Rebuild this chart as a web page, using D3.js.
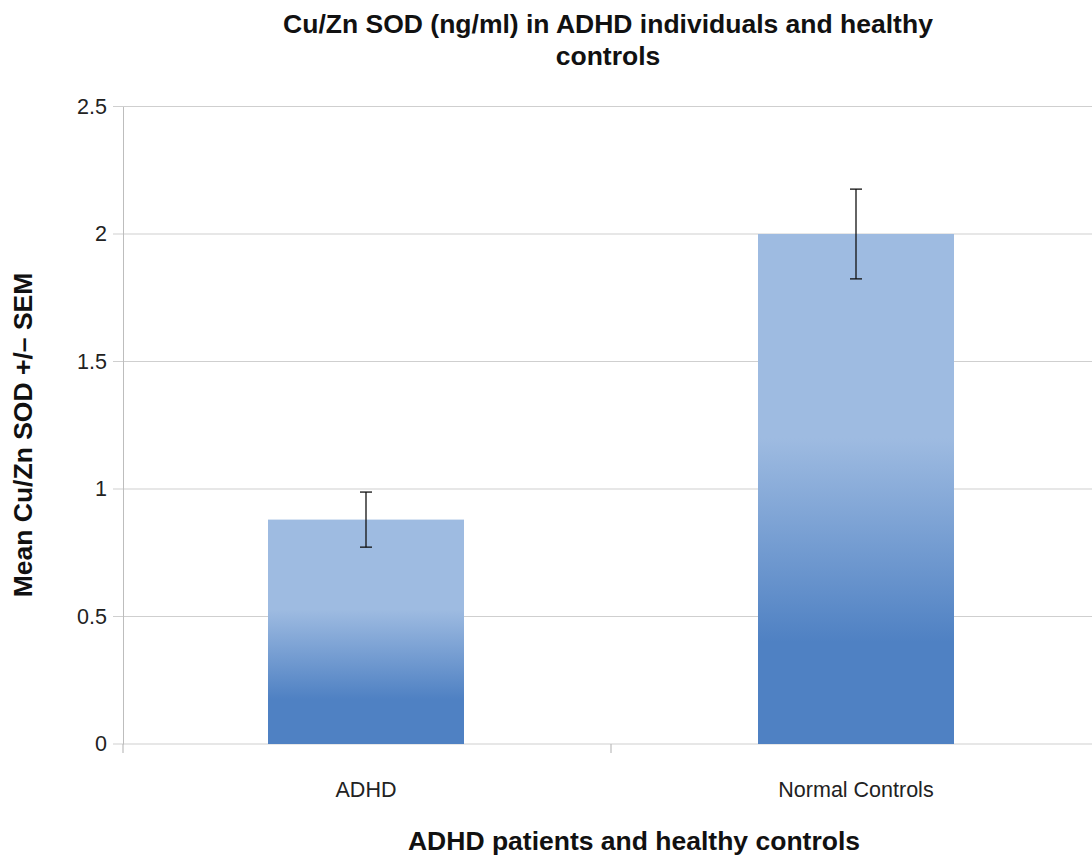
<!DOCTYPE html>
<html>
<head>
<meta charset="utf-8">
<script src="https://cdn.jsdelivr.net/npm/d3@7"></script>
<style>
  body { margin: 0; background: #fff; }
  text { font-family: "Liberation Sans", Arial, sans-serif; }
</style>
</head>
<body>
<div id="chart"></div>
<script>
// chart data
const categories = ['ADHD', 'Normal Controls'];
const means = [0.88, 2.0];
const sems = [0.108, 0.176];
const yTicks = [0, 0.5, 1, 1.5, 2, 2.5];

const W = 1092, H = 857;
const margin = {top: 106.5, right: 0, bottom: 113, left: 123};
const width = W - margin.left - margin.right,
    height = H - margin.top - margin.bottom;

const svg = d3.select('#chart')
    .append('svg')
    .attr('width', W)
    .attr('height', H);

// gradient used on the bars
const grad = svg.append('defs').append('linearGradient')
    .attr('id', 'barGrad')
    .attr('x1', 0).attr('y1', 0).attr('x2', 0).attr('y2', 1);
grad.append('stop').attr('offset', '0.4').attr('stop-color', '#9ebbe1');
grad.append('stop').attr('offset', '0.8').attr('stop-color', '#4f81c3');

const g = svg.append('g')
    .attr('transform', `translate(${margin.left},${margin.top})`);

// band range slightly wider than the plot, like the original
const x = d3.scaleBand()
    .domain(categories)
    .range([-2, 978])
    .paddingInner(0.6)
    .paddingOuter(0.3);

const y = d3.scaleLinear()
    .domain([0, 2.5])
    .range([height, 0]);

// gridlines
g.append('g')
    .selectAll('line')
    .data(yTicks)
    .enter()
    .append('line')
    .attr('x1', -10)
    .attr('x2', width)
    .attr('y1', d => y(d))
    .attr('y2', d => y(d))
    .attr('stroke', '#cfcfcf')
    .attr('stroke-width', 1.2);

// y axis
const yAxis = g.append('g')
    .call(d3.axisLeft(y).tickValues(yTicks).tickSize(0).tickPadding(16).tickFormat(d3.format('')));
yAxis.select('.domain').attr('stroke', '#bdbdbd');
yAxis.selectAll('text')
    .style('font-size', '21.5px')
    .attr('fill', '#222');

// x axis ticks (between categories)
const step = x.step();
g.append('g')
    .selectAll('line')
    .data(d3.range(categories.length + 1))
    .enter()
    .append('line')
    .attr('x1', d => Math.max(0, x.range()[0] + d * step))
    .attr('x2', d => Math.max(0, x.range()[0] + d * step))
    .attr('y1', height)
    .attr('y2', height + 9)
    .attr('stroke', '#bdbdbd')
    .attr('stroke-width', 1.2);

g.append('g')
    .selectAll('text')
    .data(categories)
    .enter()
    .append('text')
    .attr('x', d => x(d) + x.bandwidth() / 2)
    .attr('y', height + 53)
    .attr('text-anchor', 'middle')
    .style('font-size', '21.5px')
    .attr('fill', '#222')
    .text(d => d);

// bars
g.selectAll('.bar')
    .data(categories)
    .enter()
    .append('rect')
    .attr('class', 'bar')
    .attr('x', d => x(d))
    .attr('y', (d, i) => y(means[i]))
    .attr('width', x.bandwidth())
    .attr('height', (d, i) => height - y(means[i]))
    .attr('fill', 'url(#barGrad)');

// error bars
const err = g.selectAll('.err')
    .data(categories)
    .enter()
    .append('g')
    .attr('class', 'err')
    .attr('stroke', '#111')
    .attr('stroke-width', 1.3);
err.append('line')
    .attr('x1', d => x(d) + x.bandwidth() / 2)
    .attr('x2', d => x(d) + x.bandwidth() / 2)
    .attr('y1', (d, i) => y(means[i] + sems[i]))
    .attr('y2', (d, i) => y(means[i] - sems[i]));
err.append('line')
    .attr('x1', d => x(d) + x.bandwidth() / 2 - 6)
    .attr('x2', d => x(d) + x.bandwidth() / 2 + 6)
    .attr('y1', (d, i) => y(means[i] + sems[i]))
    .attr('y2', (d, i) => y(means[i] + sems[i]));
err.append('line')
    .attr('x1', d => x(d) + x.bandwidth() / 2 - 6)
    .attr('x2', d => x(d) + x.bandwidth() / 2 + 6)
    .attr('y1', (d, i) => y(means[i] - sems[i]))
    .attr('y2', (d, i) => y(means[i] - sems[i]));

// titles
const title = svg.append('text')
    .attr('text-anchor', 'middle')
    .style('font-size', '26.5px')
    .style('font-weight', 'bold')
    .attr('fill', '#111');
title.append('tspan').attr('x', 608).attr('y', 33).text('Cu/Zn SOD (ng/ml) in ADHD individuals and healthy');
title.append('tspan').attr('x', 608).attr('y', 65).text('controls');

svg.append('text')
    .attr('x', 634)
    .attr('y', 850)
    .attr('text-anchor', 'middle')
    .style('font-size', '26.5px')
    .style('font-weight', 'bold')
    .attr('fill', '#111')
    .text('ADHD patients and healthy controls');

svg.append('text')
    .attr('transform', 'translate(32,435) rotate(-90)')
    .attr('text-anchor', 'middle')
    .style('font-size', '26.5px')
    .style('font-weight', 'bold')
    .attr('fill', '#111')
    .text('Mean Cu/Zn SOD +/\u2013 SEM');
</script>
</body>
</html>
